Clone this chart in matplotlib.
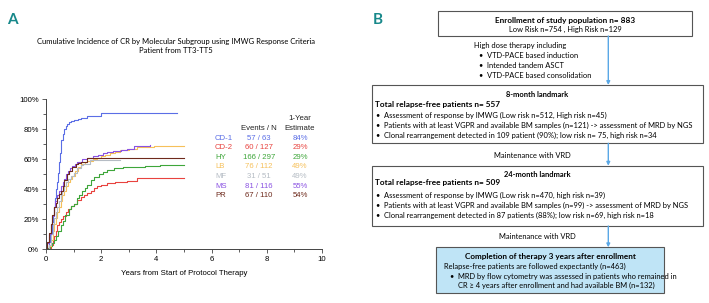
import numpy as np
import matplotlib.pyplot as plt
from matplotlib.patches import Rectangle

W, H = 709, 303

# ---- panel A data: cumulative incidence of CR (years, percent) ----
groups = ['CD-1', 'CD-2', 'HY', 'LB', 'MF', 'MS', 'PR']
colors = ['#5b6ee6', '#e8433f', '#3ea63a', '#f6c05a', '#b5bcc4', '#8a52e2', '#6e2a1c']
events = ['57 / 63', '60 / 127', '166 / 297', '76 / 112', '31 / 51', '81 / 116', '67 / 110']
estimate = ['84%', '29%', '29%', '49%', '49%', '55%', '54%']

cd1_t = [0, 0.05, 0.1, 0.15, 0.2, 0.25, 0.29, 0.33, 0.37, 0.41, 0.45, 0.48, 0.5, 0.53, 0.56,
         0.6, 0.67, 0.72, 0.77, 0.85, 0.92, 1.0, 1.15, 1.26, 1.5, 1.75, 2.0, 4.75]
cd1_y = [0, 1, 5, 10, 18, 23, 28, 34, 40, 45, 51, 58, 64, 69, 73,
         77, 80, 82, 83.5, 84.5, 85.5, 86, 87, 87.5, 88.5, 89, 90.4, 90.4]
cd2_t = [0, 0.1, 0.17, 0.24, 0.3, 0.36, 0.41, 0.48, 0.55, 0.63, 0.71, 0.8, 0.9, 1.0, 1.13,
         1.25, 1.38, 1.5, 1.62, 1.75, 1.86, 2.0, 2.2, 2.5, 2.92, 3.3, 5.0]
cd2_y = [0, 1, 3, 6, 9, 12, 16, 18, 20, 22, 25, 27, 29, 30, 33,
         35, 36, 37.5, 39, 41, 42, 43, 44, 45, 45.5, 47.3, 47.3]
hy_t = [0, 0.07, 0.15, 0.22, 0.29, 0.36, 0.43, 0.53, 0.6, 0.7, 0.83, 0.92, 1.0, 1.13, 1.2,
        1.3, 1.4, 1.5, 1.62, 1.75, 1.92, 2.05, 2.22, 2.47, 2.8, 3.16, 3.6, 4.13, 5.0]
hy_y = [0, 1, 2, 4, 6, 9, 12, 16, 19, 23, 27, 29, 30, 34, 36,
        39, 41, 43, 46, 48, 50, 51.5, 52.5, 53.8, 54.5, 55, 55.5, 56, 56]
lb_t = [0, 0.1, 0.18, 0.24, 0.29, 0.35, 0.41, 0.47, 0.53, 0.59, 0.65, 0.72, 0.8, 0.88, 0.95,
        1.05, 1.15, 1.26, 1.4, 1.5, 1.7, 1.85, 2.0, 2.15, 2.32, 2.5, 2.68, 3.0, 3.29, 3.9, 5.0]
lb_y = [0, 2, 6, 12, 17, 21, 25, 28, 32, 36, 39, 42, 45, 47, 49,
        52, 55, 57, 58, 59, 60, 60.5, 62, 63, 64, 65, 66, 67, 68, 69, 69]
mf_t = [0, 0.1, 0.17, 0.24, 0.3, 0.36, 0.41, 0.47, 0.53, 0.59, 0.65, 0.72, 0.8, 0.89, 1.0,
        1.13, 1.25, 1.35, 1.6, 2.68]
mf_y = [0, 3, 10, 17, 21, 25, 28, 32, 36, 39, 42, 45, 47, 49, 51,
        54, 56, 57, 59.3, 59.3]
ms_t = [0, 0.05, 0.1, 0.17, 0.22, 0.28, 0.34, 0.4, 0.46, 0.53, 0.6, 0.65, 0.71, 0.78, 0.86,
        0.95, 1.05, 1.13, 1.3, 1.5, 1.71, 1.9, 2.08, 2.22, 2.44, 2.7, 2.92, 3.2, 3.5, 3.77]
ms_y = [0, 4, 10, 17, 22, 28, 32, 36, 39, 42, 45, 47, 50, 52, 54,
        55.5, 57, 58, 60, 61, 62, 63, 64, 64.5, 65.5, 66, 67, 68.5, 69, 69.5]
pr_t = [0, 0.05, 0.1, 0.17, 0.23, 0.29, 0.35, 0.41, 0.47, 0.53, 0.6, 0.67, 0.77, 0.85, 0.95,
        1.07, 1.17, 1.26, 1.5, 5.0]
pr_y = [0, 5, 11, 17, 23, 28, 31, 34, 37, 39, 42, 46, 50, 52, 55,
        57, 57.5, 58, 60.4, 60.4]

times = [cd1_t, cd2_t, hy_t, lb_t, mf_t, ms_t, pr_t]
values = [cd1_y, cd2_y, hy_y, lb_y, mf_y, ms_y, pr_y]

# ---- panel B text ----
box1_head = 'Enrollment of study population n= 883'
box1_sub = 'Low Risk n=754 , High Risk n=129'
induction = ['High dose therapy including',
             '\u2022  VTD-PACE based induction',
             '\u2022  Intended tandem ASCT',
             '\u2022  VTD-PACE based consolidation']
box2_head = '8-month landmark'
box2_total = 'Total relapse-free patients n= 557'
box2_items = ['\u2022  Assessment of response by IMWG (Low risk n=512, High risk n=45)',
              '\u2022  Patients with at least VGPR and available BM samples (n=121) -> assessment of MRD by NGS',
              '\u2022  Clonal rearrangement detected in 109 patient (90%); low risk n= 75, high risk n=34']
box3_head = '24-month landmark'
box3_total = 'Total relapse-free patients n= 509'
box3_items = ['\u2022  Assessment of response by IMWG (Low risk n=470, high risk n=39)',
              '\u2022  Patients with at least VGPR and available BM samples (n=99) -> assessment of MRD by NGS',
              '\u2022  Clonal rearrangement detected in 87 patients (88%); low risk n=69, high risk n=18']
box4_head = 'Completion of therapy 3 years after enrollment'
box4_lines = ['Relapse-free patients are followed expectantly (n=463)',
              '\u2022  MRD by flow cytometry was assessed in patients who remained in',
              'CR \u2265 4 years after enrollment and had available BM (n=132)']

teal = '#17888a'
arrow_c = '#5aa8e6'
sans = ['Lato', 'DejaVu Sans']
arial = ['Liberation Sans', 'DejaVu Sans']


def fr(x0, y0, x1, y1):
    return [x0 / W, 1 - y1 / H, (x1 - x0) / W, (y1 - y0) / H]


fig = plt.figure(figsize=(W / 100, H / 100), dpi=100)
fig.patch.set_facecolor('white')

# chart axes
ax = fig.add_axes(fr(46, 99, 322, 249))
for t, y, c in zip(times, values, colors):
    ax.step(t, y, where='post', color=c, lw=0.8)
ax.set_xlim(0, 10)
ax.set_ylim(0, 100)
ax.set_xticks(np.arange(0, 11, 2))
ax.set_xticks(np.arange(1, 10, 2), minor=True)
ax.set_yticks(np.arange(0, 101, 20))
ax.set_yticks(np.arange(10, 100, 20), minor=True)
ax.set_yticklabels([f'{v}%' for v in range(0, 101, 20)])
for s in ['top', 'right']:
    ax.spines[s].set_visible(False)
for s in ['left', 'bottom']:
    ax.spines[s].set_color('#444444')
    ax.spines[s].set_linewidth(0.7)
ax.tick_params(which='both', direction='out', color='#444444', width=0.6)
ax.tick_params(which='major', length=3, labelsize=5.6, pad=2)
ax.tick_params(which='minor', length=2)
for lab in ax.get_xticklabels() + ax.get_yticklabels():
    lab.set_family(arial)
ax.set_xlabel('Years from Start of Protocol Therapy', fontsize=5.6, family=arial, labelpad=5)

# overlay in pixel coordinates
ov = fig.add_axes([0, 0, 1, 1])
ov.set_xlim(0, W)
ov.set_ylim(H, 0)
ov.axis('off')

ov.text(7, 20, 'A', color=teal, fontsize=11, fontweight='bold', family=sans, va='center', ha='left')
ov.text(373, 20, 'B', color=teal, fontsize=11, fontweight='bold', family=sans, va='center', ha='left')
ov.text(176, 41.5, 'Cumulative Incidence of CR by Molecular Subgroup using IMWG Response Criteria',
        fontsize=5.5, family=sans, ha='center', va='center')
ov.text(176, 50.5, 'Patient from TT3-TT5', fontsize=5.5, family=sans, ha='center', va='center')

# legend table
ov.text(300, 119, '1-Year', fontsize=5.6, family=arial, ha='center', va='center', color='#222222')
ov.text(300, 128.5, 'Estimate', fontsize=5.6, family=arial, ha='center', va='center', color='#222222')
ov.text(259, 128.5, 'Events / N', fontsize=5.6, family=arial, ha='center', va='center', color='#222222')
for i, (g, e, p, c) in enumerate(zip(groups, events, estimate, colors)):
    yy = 138 + i * 9.6
    ov.text(215, yy, g, fontsize=5.6, family=arial, ha='left', va='center', color=c)
    ov.text(259, yy, e, fontsize=5.6, family=arial, ha='center', va='center', color=c)
    ov.text(300, yy, p, fontsize=5.6, family=arial, ha='center', va='center', color=c)

# flow chart boxes
fs = 5.45
edge = '#555555'
ov.add_patch(Rectangle((438, 10.5), 254, 25.5, fill=False, ec=edge, lw=0.8))
ov.text(565, 20, box1_head, fontsize=fs + 0.4, fontweight='bold', family=sans, ha='center', va='center')
ov.text(565, 29.3, box1_sub, fontsize=fs, family=sans, ha='center', va='center')
ov.text(474, 45.7, induction[0], fontsize=fs, family=sans, ha='left', va='center')
for i, s in enumerate(induction[1:]):
    ov.text(479, 56 + i * 10, s, fontsize=fs, family=sans, ha='left', va='center')

ov.add_patch(Rectangle((371.5, 85), 331.5, 58.3, fill=False, ec=edge, lw=0.8))
ov.text(537, 94.3, box2_head, fontsize=fs, fontweight='bold', family=sans, ha='center', va='center')
ov.text(375, 104.3, box2_total, fontsize=fs + 0.5, fontweight='bold', family=sans, ha='left', va='center')
for i, s in enumerate(box2_items):
    ov.text(376, 115.7 + i * 10, s, fontsize=fs, family=sans, ha='left', va='center')

ov.text(532.7, 155, 'Maintenance with VRD', fontsize=fs, family=sans, ha='center', va='center')

ov.add_patch(Rectangle((371.5, 165.7), 331.5, 60.3, fill=False, ec=edge, lw=0.8))
ov.text(537, 174.3, box3_head, fontsize=fs, fontweight='bold', family=sans, ha='center', va='center')
ov.text(375, 183, box3_total, fontsize=fs + 0.5, fontweight='bold', family=sans, ha='left', va='center')
for i, s in enumerate(box3_items):
    ov.text(376, 195 + i * 10.3, s, fontsize=fs, family=sans, ha='left', va='center')

ov.text(537.7, 236.7, 'Maintenance with VRD', fontsize=fs, family=sans, ha='center', va='center')

ov.add_patch(Rectangle((436, 247.3), 228.3, 46, fc='#bfe4f6', ec=edge, lw=0.8))
ov.text(550, 256.7, box4_head, fontsize=fs + 0.4, fontweight='bold', family=sans, ha='center', va='center')
ov.text(444.3, 266.7, box4_lines[0], fontsize=fs, family=sans, ha='left', va='center')
ov.text(450, 276.7, box4_lines[1], fontsize=fs, family=sans, ha='left', va='center')
ov.text(457.7, 285.7, box4_lines[2], fontsize=fs, family=sans, ha='left', va='center')

# arrows
for y0, y1 in [(36, 85), (143.3, 165.7), (226, 247.3)]:
    ov.annotate('', xy=(608.3, y1), xytext=(608.3, y0),
                arrowprops=dict(arrowstyle='-|>', color=arrow_c, lw=1.0, mutation_scale=5,
                                shrinkA=0, shrinkB=0))

fig.savefig('out.png', dpi=100)
